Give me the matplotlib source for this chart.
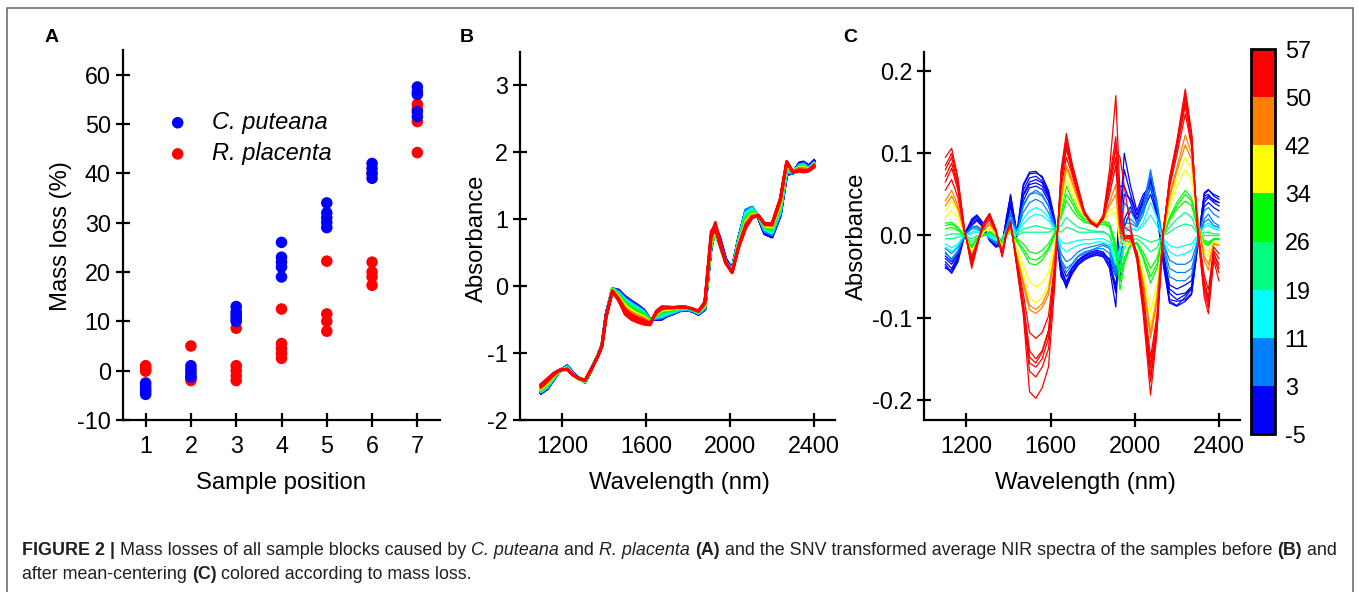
import numpy as np
import matplotlib
matplotlib.use("Agg")
import matplotlib.pyplot as plt
from matplotlib.colors import ListedColormap, BoundaryNorm
from matplotlib.cm import ScalarMappable
from matplotlib.patches import Rectangle
from matplotlib.transforms import IdentityTransform
from matplotlib.ticker import FormatStrFormatter
from matplotlib import font_manager

# ---------------- data ----------------
# Panel A: mass loss (%) per sample position
CP_POSITION = [1, 1, 1, 1, 1, 2, 2, 2, 2, 2, 3, 3, 3, 3, 3, 3, 4, 4, 4, 4, 4,
               5, 5, 5, 5, 5, 6, 6, 6, 6, 7, 7, 7, 7, 7]
CP_MASS_LOSS = [-2.5, -3.2, -3.8, -4.3, -4.8, 1.0, 0.3, -0.3, -1.0, -1.3,
                13.0, 12.0, 11.5, 11.0, 10.5, 10.0, 26.0, 23.0, 22.0, 21.0, 19.0,
                34.0, 32.0, 31.0, 30.0, 29.0, 42.0, 41.0, 40.0, 39.0,
                57.5, 56.5, 56.0, 52.5, 51.5]
RP_POSITION = [1, 1, 1, 1, 2, 2, 2, 3, 3, 3, 3, 3, 4, 4, 4, 4, 4,
               5, 5, 5, 5, 6, 6, 6, 6, 6, 7, 7, 7, 7]
RP_MASS_LOSS = [1.0, 0.6, 0.2, -0.1, 5.0, -1.5, -2.0, 8.6, 1.0, 0.0, -1.0, -2.0,
                12.5, 5.5, 4.5, 3.5, 2.5, 22.2, 11.5, 10.0, 8.0,
                40.0, 22.0, 20.0, 19.0, 17.3, 54.0, 53.0, 50.5, 44.2]
SPECIES = ["C. puteana", "R. placenta"]
POSITIONS = [1, 2, 3, 4, 5, 6, 7]

# Panels B/C: wavelength grid (nm)
WAVELENGTH = [1100, 1130, 1160, 1190, 1225, 1250, 1280, 1310, 1340, 1370,
              1390, 1410, 1440, 1470, 1500, 1530, 1560, 1590, 1620, 1650,
              1675, 1700, 1730, 1760, 1790, 1820, 1850, 1880, 1910, 1930,
              1950, 1980, 2010, 2040, 2075, 2105, 2135, 2165, 2200, 2240,
              2270, 2300, 2330, 2350, 2375, 2400]

# SNV average spectrum (mean over all samples)
MEAN_SPECTRUM = [-1.56, -1.49, -1.37, -1.26, -1.21, -1.31, -1.39, -1.43, -1.24, -1.03,
                 -0.90, -0.47, -0.04, -0.12, -0.23, -0.30, -0.355, -0.41, -0.52, -0.45,
                 -0.43, -0.40, -0.375, -0.34, -0.33, -0.35, -0.395, -0.31, 0.65, 0.86,
                 0.65, 0.35, 0.23, 0.66, 1.06, 1.14, 1.055, 0.865, 0.82, 1.14,
                 1.74, 1.70, 1.79, 1.80, 1.75, 1.83]

# mean-centered spectra (panel C) and the mass loss of each
CURVE_MASS_LOSS = [-4.5, -3, -1, 0, 1, 2, 4, 7, 9, 13, 15, 20, 22, 28, 30, 32,
                   37, 40, 44, 46, 50.5, 52, 53, 54, 55, 57]
CENTERED = [
    # -4.5
    [-0.038, -0.046, -0.032, -0.002, 0.018, 0.024, 0.014, -0.006, -0.014, -0.012,
     0.022, 0.048, 0.004, 0.062, 0.077, 0.078, 0.070, 0.052, 0.016, -0.048,
     -0.062, -0.048, -0.036, -0.030, -0.026, -0.024, -0.026, -0.036, -0.070, -0.010,
     0.050, 0.045, 0.025, 0.040, 0.065, 0.032, -0.035, -0.082, -0.086, -0.080,
     -0.072, -0.012, 0.052, 0.056, 0.048, 0.044],
    # -3
    [-0.028, -0.035, -0.024, 0.002, 0.016, 0.020, 0.012, -0.004, -0.010, -0.008,
     0.016, 0.040, 0.000, 0.050, 0.065, 0.068, 0.064, 0.048, 0.016, -0.040,
     -0.056, -0.042, -0.032, -0.026, -0.022, -0.020, -0.022, -0.034, -0.060, -0.030,
     0.010, 0.030, 0.020, 0.040, 0.070, 0.036, -0.020, -0.065, -0.072, -0.070,
     -0.062, -0.008, 0.040, 0.046, 0.040, 0.036],
    # -1
    [-0.025, -0.032, -0.022, 0.000, 0.012, 0.018, 0.010, -0.004, -0.010, -0.008,
     0.012, 0.035, -0.002, 0.042, 0.058, 0.060, 0.056, 0.042, 0.014, -0.035,
     -0.050, -0.040, -0.030, -0.024, -0.020, -0.018, -0.020, -0.030, -0.065, 0.005,
     0.080, 0.050, 0.025, 0.045, 0.068, 0.034, -0.022, -0.060, -0.065, -0.060,
     -0.055, -0.006, 0.035, 0.040, 0.034, 0.030],
    # 0
    [-0.035, -0.045, -0.030, 0.000, 0.020, 0.025, 0.015, -0.005, -0.012, -0.010,
     0.020, 0.050, 0.000, 0.060, 0.075, 0.076, 0.072, 0.055, 0.020, -0.045,
     -0.064, -0.045, -0.035, -0.028, -0.025, -0.022, -0.025, -0.040, -0.087, 0.020,
     0.100, 0.060, 0.030, 0.050, 0.060, 0.030, -0.030, -0.078, -0.080, -0.078,
     -0.070, -0.010, 0.050, 0.055, 0.050, 0.047],
    # 1
    [-0.032, -0.040, -0.026, 0.000, 0.014, 0.018, 0.010, -0.006, -0.012, -0.010,
     0.014, 0.038, 0.000, 0.048, 0.062, 0.064, 0.060, 0.046, 0.014, -0.042,
     -0.058, -0.046, -0.034, -0.028, -0.024, -0.022, -0.024, -0.028, -0.040, -0.055,
     0.020, 0.035, 0.015, 0.035, 0.058, 0.028, -0.028, -0.070, -0.078, -0.072,
     -0.064, -0.010, 0.044, 0.048, 0.044, 0.040],
    # 2
    [-0.040, -0.042, -0.028, 0.002, 0.018, 0.022, 0.012, -0.006, -0.014, -0.012,
     0.018, 0.046, 0.002, 0.055, 0.070, 0.072, 0.066, 0.050, 0.018, -0.050,
     -0.060, -0.040, -0.030, -0.025, -0.022, -0.020, -0.022, -0.030, -0.050, 0.060,
     0.060, 0.040, 0.020, 0.030, 0.050, 0.025, -0.030, -0.080, -0.085, -0.075,
     -0.065, -0.005, 0.048, 0.050, 0.042, 0.040],
    # 4
    [-0.022, -0.028, -0.018, 0.000, 0.010, 0.012, 0.006, -0.004, -0.008, -0.006,
     0.010, 0.028, 0.002, 0.038, 0.050, 0.052, 0.048, 0.036, 0.012, -0.030,
     -0.045, -0.036, -0.026, -0.022, -0.018, -0.016, -0.016, -0.022, -0.050, -0.010,
     0.040, 0.030, 0.015, 0.035, 0.080, 0.040, -0.015, -0.050, -0.055, -0.055,
     -0.048, -0.008, 0.030, 0.034, 0.026, 0.022],
    # 7
    [-0.020, -0.030, -0.020, 0.000, 0.010, 0.010, 0.005, -0.004, -0.010, -0.006,
     0.010, 0.025, 0.005, 0.035, 0.050, 0.055, 0.050, 0.036, 0.010, -0.030,
     -0.040, -0.035, -0.025, -0.020, -0.018, -0.015, -0.012, -0.016, -0.045, -0.020,
     0.020, 0.020, 0.012, 0.030, 0.075, 0.042, -0.010, -0.040, -0.045, -0.045,
     -0.040, -0.010, 0.020, 0.026, 0.016, 0.012],
    # 9
    [-0.016, -0.022, -0.014, 0.000, 0.008, 0.008, 0.004, -0.002, -0.008, -0.004,
     0.008, 0.020, 0.004, 0.028, 0.040, 0.044, 0.040, 0.028, 0.008, -0.022,
     -0.032, -0.028, -0.020, -0.016, -0.014, -0.012, -0.010, -0.014, -0.040, -0.012,
     0.015, 0.015, 0.010, 0.025, 0.060, 0.035, -0.008, -0.030, -0.035, -0.035,
     -0.030, -0.006, 0.016, 0.020, 0.012, 0.010],
    # 13
    [-0.014, -0.020, -0.012, 0.000, 0.004, 0.006, 0.002, -0.002, -0.006, -0.004,
     0.006, 0.014, 0.003, 0.020, 0.030, 0.034, 0.030, 0.022, 0.008, -0.014,
     -0.020, -0.016, -0.012, -0.010, -0.010, -0.008, -0.008, -0.012, -0.036, -0.020,
     0.005, 0.008, 0.006, 0.016, 0.040, 0.022, -0.006, -0.020, -0.025, -0.022,
     -0.018, -0.002, 0.012, 0.015, 0.010, 0.008],
    # 15
    [-0.010, -0.015, -0.010, 0.000, 0.002, 0.004, 0.002, 0.000, -0.004, -0.004,
     0.004, 0.010, 0.002, 0.014, 0.022, 0.026, 0.024, 0.018, 0.008, -0.008,
     -0.010, -0.008, -0.006, -0.005, -0.005, -0.004, -0.004, -0.008, -0.030, -0.015,
     0.010, 0.010, 0.006, 0.012, 0.025, 0.012, -0.004, -0.012, -0.015, -0.012,
     -0.010, 0.000, 0.010, 0.012, 0.008, 0.006],
    # 20
    [-0.004, -0.004, -0.002, 0.000, -0.004, 0.000, 0.000, 0.002, -0.002, -0.004,
     0.003, 0.008, 0.002, 0.008, 0.010, 0.012, 0.010, 0.008, 0.008, 0.004,
     0.010, 0.008, 0.004, 0.004, 0.004, 0.004, 0.004, 0.000, -0.025, -0.030,
     -0.010, 0.000, 0.000, -0.004, -0.008, -0.006, 0.000, 0.004, 0.010, 0.014,
     0.012, 0.002, 0.004, 0.004, 0.002, 0.002],
    # 22
    [0.000, 0.002, 0.002, 0.000, -0.008, -0.002, 0.000, 0.002, -0.002, -0.006,
     0.002, 0.006, 0.000, 0.004, 0.004, 0.004, 0.004, 0.004, 0.008, 0.012,
     0.022, 0.016, 0.010, 0.008, 0.006, 0.005, 0.005, 0.000, -0.022, -0.040,
     -0.015, -0.005, -0.004, -0.010, -0.020, -0.015, 0.000, 0.010, 0.020, 0.028,
     0.022, 0.004, 0.000, 0.000, 0.000, 0.000],
    # 28
    [0.008, 0.010, 0.006, 0.000, -0.012, -0.004, 0.000, 0.004, 0.000, -0.008,
     0.000, 0.004, -0.004, -0.010, -0.020, -0.022, -0.018, -0.010, 0.004, 0.022,
     0.042, 0.032, 0.022, 0.016, 0.014, 0.012, 0.014, 0.010, -0.018, -0.066,
     -0.035, -0.012, -0.008, -0.020, -0.040, -0.028, 0.000, 0.018, 0.032, 0.042,
     0.036, 0.008, -0.006, -0.008, -0.004, -0.004],
    # 30
    [0.012, 0.014, 0.008, 0.000, -0.014, -0.004, 0.000, 0.004, 0.000, -0.010,
     0.000, 0.004, -0.008, -0.020, -0.034, -0.036, -0.030, -0.018, 0.000, 0.026,
     0.050, 0.040, 0.026, 0.018, 0.016, 0.014, 0.016, 0.012, -0.014, -0.045,
     -0.028, -0.010, -0.010, -0.028, -0.058, -0.040, 0.000, 0.020, 0.036, 0.050,
     0.042, 0.010, -0.008, -0.010, -0.004, -0.004],
    # 32
    [0.015, 0.016, 0.010, 0.000, -0.015, -0.005, 0.000, 0.005, 0.000, -0.010,
     0.000, 0.005, -0.006, -0.016, -0.028, -0.030, -0.025, -0.015, 0.002, 0.030,
     0.060, 0.045, 0.030, 0.020, 0.018, 0.015, 0.018, 0.015, -0.010, -0.055,
     -0.030, -0.012, -0.010, -0.025, -0.050, -0.035, 0.000, 0.022, 0.040, 0.055,
     0.045, 0.010, -0.010, -0.012, -0.005, -0.005],
    # 37
    [0.022, 0.030, 0.022, 0.003, -0.020, -0.008, 0.004, 0.008, 0.002, -0.012,
     0.000, 0.006, -0.016, -0.036, -0.056, -0.062, -0.058, -0.045, -0.010, 0.035,
     0.066, 0.052, 0.035, 0.022, 0.018, 0.014, 0.018, 0.025, 0.028, -0.012,
     -0.012, -0.010, -0.018, -0.042, -0.092, -0.060, 0.000, 0.034, 0.060, 0.080,
     0.068, 0.016, -0.016, -0.020, -0.008, -0.008],
    # 40
    [0.030, 0.042, 0.030, 0.004, -0.024, -0.009, 0.005, 0.010, 0.003, -0.015,
     0.000, 0.008, -0.020, -0.046, -0.075, -0.082, -0.076, -0.060, -0.015, 0.040,
     0.078, 0.060, 0.040, 0.025, 0.020, 0.015, 0.020, 0.030, 0.036, -0.005,
     -0.010, -0.010, -0.020, -0.050, -0.110, -0.070, 0.000, 0.040, 0.070, 0.095,
     0.080, 0.020, -0.020, -0.026, -0.010, -0.010],
    # 44
    [0.036, 0.048, 0.032, 0.004, -0.024, -0.009, 0.007, 0.013, 0.004, -0.017,
     0.001, 0.009, -0.025, -0.055, -0.085, -0.090, -0.083, -0.066, -0.020, 0.044,
     0.082, 0.066, 0.044, 0.025, 0.019, 0.013, 0.020, 0.036, 0.050, 0.002,
     -0.006, -0.008, -0.020, -0.056, -0.118, -0.076, 0.001, 0.046, 0.078, 0.110,
     0.092, 0.018, -0.025, -0.035, -0.010, -0.012],
    # 46
    [0.042, 0.055, 0.036, 0.004, -0.025, -0.009, 0.008, 0.015, 0.004, -0.018,
     0.001, 0.010, -0.028, -0.060, -0.090, -0.095, -0.088, -0.072, -0.022, 0.048,
     0.085, 0.070, 0.046, 0.025, 0.018, 0.012, 0.020, 0.040, 0.062, 0.008,
     -0.002, -0.006, -0.020, -0.060, -0.125, -0.082, 0.002, 0.050, 0.082, 0.122,
     0.100, 0.018, -0.030, -0.042, -0.010, -0.012],
    # 50.5
    [0.055, 0.068, 0.046, 0.005, -0.027, -0.009, 0.010, 0.019, 0.004, -0.020,
     0.003, 0.013, -0.030, -0.070, -0.118, -0.125, -0.118, -0.098, -0.032, 0.058,
     0.095, 0.076, 0.050, 0.026, 0.016, 0.011, 0.020, 0.050, 0.085, 0.010,
     -0.002, -0.004, -0.020, -0.070, -0.148, -0.098, 0.005, 0.058, 0.098, 0.148,
     0.108, 0.006, -0.048, -0.066, -0.014, -0.022],
    # 52
    [0.065, 0.082, 0.055, 0.006, -0.030, -0.010, 0.012, 0.022, 0.005, -0.022,
     0.004, 0.015, -0.033, -0.080, -0.140, -0.150, -0.140, -0.115, -0.040, 0.065,
     0.105, 0.080, 0.052, 0.026, 0.015, 0.010, 0.020, 0.058, 0.095, 0.015,
     0.000, -0.002, -0.022, -0.078, -0.160, -0.105, 0.006, 0.062, 0.105, 0.158,
     0.112, 0.004, -0.055, -0.075, -0.018, -0.028],
    # 53
    [0.072, 0.088, 0.058, 0.007, -0.033, -0.011, 0.014, 0.026, 0.007, -0.024,
     0.004, 0.016, -0.035, -0.085, -0.148, -0.155, -0.142, -0.118, -0.042, 0.068,
     0.110, 0.082, 0.055, 0.027, 0.017, 0.011, 0.021, 0.060, 0.110, 0.040,
     0.010, 0.005, -0.024, -0.082, -0.158, -0.108, 0.004, 0.064, 0.112, 0.162,
     0.122, 0.004, -0.060, -0.080, -0.020, -0.040],
    # 54
    [0.080, 0.095, 0.062, 0.008, -0.035, -0.012, 0.013, 0.024, 0.006, -0.024,
     0.003, 0.017, -0.036, -0.088, -0.155, -0.160, -0.150, -0.125, -0.045, 0.072,
     0.112, 0.085, 0.057, 0.028, 0.016, 0.010, 0.022, 0.065, 0.105, 0.095,
     0.060, 0.010, -0.025, -0.085, -0.170, -0.112, 0.004, 0.066, 0.110, 0.168,
     0.118, 0.002, -0.062, -0.082, -0.022, -0.035],
    # 55
    [0.085, 0.100, 0.066, 0.009, -0.037, -0.013, 0.014, 0.025, 0.007, -0.025,
     0.002, 0.016, -0.038, -0.092, -0.165, -0.172, -0.160, -0.138, -0.050, 0.076,
     0.118, 0.088, 0.058, 0.029, 0.017, 0.011, 0.023, 0.070, 0.120, 0.030,
     0.000, 0.000, -0.028, -0.090, -0.178, -0.115, 0.002, 0.068, 0.112, 0.172,
     0.122, 0.001, -0.068, -0.088, -0.026, -0.045],
    # 57
    [0.095, 0.106, 0.070, 0.010, -0.040, -0.015, 0.015, 0.027, 0.008, -0.026,
     0.000, 0.016, -0.040, -0.095, -0.190, -0.198, -0.185, -0.160, -0.060, 0.080,
     0.124, 0.090, 0.060, 0.030, 0.018, 0.012, 0.025, 0.080, 0.170, 0.050,
     -0.005, 0.000, -0.030, -0.095, -0.194, -0.120, 0.000, 0.070, 0.115, 0.178,
     0.125, 0.000, -0.075, -0.095, -0.030, -0.055],
]

CBAR_BOUNDS = [-5, 3, 11, 19, 26, 34, 42, 50, 57]
CBAR_COLORS = ["#0000ff", "#0080ff", "#00ffff", "#00ff80",
               "#00ff00", "#ffff00", "#ff8000", "#ff0000"]

# ---------------- figure ----------------
plt.rcParams["font.family"] = ["Liberation Sans", "DejaVu Sans"]
plt.rcParams["axes.unicode_minus"] = False

W, H = 1358, 592
fig = plt.figure(figsize=(W / 100, H / 100), dpi=100)
fig.patch.set_facecolor("white")


def rect(l, t, r, b):
    return [l / W, 1 - b / H, (r - l) / W, (b - t) / H]


TICK_FS = 16.8
LABEL_FS = 17.2


def style(ax):
    for s in ["top", "right"]:
        ax.spines[s].set_visible(False)
    for s in ["left", "bottom"]:
        ax.spines[s].set_linewidth(1.6)
    ax.tick_params(direction="inout", length=9.5, width=1.6,
                   labelsize=TICK_FS, pad=4)
    ax.tick_params(axis="x", pad=6)


cmap = ListedColormap(CBAR_COLORS)
norm = BoundaryNorm(CBAR_BOUNDS, cmap.N)

# ---- Panel A ----
axA = fig.add_axes(rect(123, 50, 440, 420))
hr = axA.scatter(RP_POSITION, RP_MASS_LOSS, s=69, color="#ff0000",
                 edgecolors="none", zorder=2)
hb = axA.scatter(CP_POSITION, CP_MASS_LOSS, s=69, color="#0000ff",
                 edgecolors="none", zorder=3)
axA.set_xlim(0.5, 7.5)
axA.set_ylim(-10, 65)
axA.set_xticks(POSITIONS)
axA.set_yticks(np.arange(-10, 61, 10))
style(axA)
axA.legend([hb, hr], SPECIES, loc="center left",
           bbox_to_anchor=((165.9 - 123) / 317, (420 - 138) / 370),
           frameon=False, prop={"size": 17, "style": "italic"},
           handlelength=1.0, handletextpad=0.94, labelspacing=0.345,
           borderpad=0, borderaxespad=0, scatterpoints=1)

# ---- Panel B ----
axB = fig.add_axes(rect(520, 52, 835, 420))
order = np.argsort(CURVE_MASS_LOSS)
wl = np.array(WAVELENGTH)
mean = np.array(MEAN_SPECTRUM)
for i in order:
    col = cmap(norm(CURVE_MASS_LOSS[i]))
    axB.plot(wl, mean + np.array(CENTERED[i]), color=col, lw=2.0,
             solid_joinstyle="round")
axB.set_xlim(1000, 2500)
axB.set_ylim(-2, 3.5)
axB.set_xticks([1200, 1600, 2000, 2400])
axB.set_yticks([-2, -1, 0, 1, 2, 3])
style(axB)

# ---- Panel C ----
axC = fig.add_axes(rect(924.3, 52.3, 1240, 420))
for i in order:
    col = cmap(norm(CURVE_MASS_LOSS[i]))
    axC.plot(wl, CENTERED[i], color=col, lw=0.9)
axC.set_xlim(1000, 2500)
axC.set_ylim(-0.2243, 0.2227)
axC.set_xticks([1200, 1600, 2000, 2400])
axC.set_yticks([-0.2, -0.1, 0.0, 0.1, 0.2])
axC.yaxis.set_major_formatter(FormatStrFormatter("%.1f"))
style(axC)

# colorbar
cax = fig.add_axes(rect(1250.7, 49, 1275, 434))
cb = fig.colorbar(ScalarMappable(norm=norm, cmap=cmap), cax=cax,
                  ticks=CBAR_BOUNDS, spacing="uniform")
cb.outline.set_linewidth(2.0)
cax.tick_params(length=0, labelsize=TICK_FS, pad=7)
cb.set_ticklabels([str(b) for b in CBAR_BOUNDS])

# axis labels (pixel positions)
def ptext(x, y, s, **kw):
    fig.text(x / W, 1 - y / H, s, **kw)

ptext(281, 488.5, "Sample position", fontsize=LABEL_FS, ha="center", va="baseline")
ptext(679, 488.5, "Wavelength (nm)", fontsize=LABEL_FS, ha="center", va="baseline")
ptext(1085, 488.5, "Wavelength (nm)", fontsize=LABEL_FS, ha="center", va="baseline")
ptext(66.7, 236, "Mass loss (%)", fontsize=LABEL_FS, ha="center", va="baseline",
      rotation=90, rotation_mode="anchor")
ptext(483, 238, "Absorbance", fontsize=LABEL_FS, ha="center", va="baseline",
      rotation=90, rotation_mode="anchor")
ptext(863.3, 236, "Absorbance", fontsize=LABEL_FS, ha="center", va="baseline",
      rotation=90, rotation_mode="anchor")

# panel letters
for lx, letter in [(45, "A"), (460, "B"), (843, "C")]:
    ptext(lx, 41.7, letter, fontsize=14, fontweight="bold", ha="left", va="baseline")

# frame
fig.patches.append(Rectangle((7 / W, -0.02), (1353 - 7) / W, 1.02 - 8 / H,
                             transform=fig.transFigure, fill=False,
                             edgecolor="#6e6e6e", linewidth=1.2))

# caption
names = {f.name for f in font_manager.fontManager.ttflist}
cap_family = ["Liberation Sans Narrow"] if "Liberation Sans Narrow" in names else ["Liberation Sans"]
renderer = fig.canvas.get_renderer()

LINE1 = [("FIGURE 2 |", "bold", "normal"),
         (" Mass losses of all sample blocks caused by ", "normal", "normal"),
         ("C. puteana", "normal", "italic"),
         (" and ", "normal", "normal"),
         ("R. placenta", "normal", "italic"),
         (" ", "normal", "normal"),
         ("(A)", "bold", "normal"),
         (" and the SNV transformed average NIR spectra of the samples before ", "normal", "normal"),
         ("(B)", "bold", "normal"),
         (" and", "normal", "normal")]
LINE2 = [("after mean-centering ", "normal", "normal"),
         ("(C)", "bold", "normal"),
         (" colored according to mass loss.", "normal", "normal")]


def seg_width(s, size, weight, style_):
    t1 = fig.text(0, 0, "|" + s + "|", fontsize=size, fontweight=weight,
                  fontstyle=style_, family=cap_family, transform=IdentityTransform())
    t2 = fig.text(0, 0, "||", fontsize=size, fontweight=weight,
                  fontstyle=style_, family=cap_family, transform=IdentityTransform())
    w = t1.get_window_extent(renderer).width - t2.get_window_extent(renderer).width
    t1.remove()
    t2.remove()
    return w


def line_width(segs, size):
    return sum(seg_width(s, size, w, st) for s, w, st in segs)


cap_size = 12.0
cap_size = cap_size * (1318 / line_width(LINE1, cap_size))


def draw_line(segs, x, y, size):
    for s, w, st in segs:
        fig.text(x, y, s, fontsize=size, fontweight=w, fontstyle=st,
                 family=cap_family, color="#231f20", transform=IdentityTransform(),
                 ha="left", va="baseline")
        x += seg_width(s, size, w, st)


draw_line(LINE1, 22, H - 555, cap_size)
draw_line(LINE2, 22, H - 579, cap_size)

fig.savefig("out.png", dpi=100, facecolor="white")
